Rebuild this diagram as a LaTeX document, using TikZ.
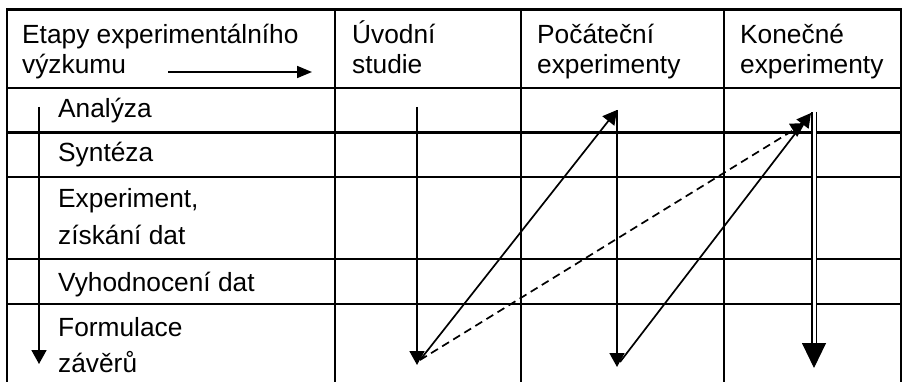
\documentclass[tikz,border=0pt]{standalone}
\usepackage{fontspec}
\setmainfont{Liberation Sans}
\usetikzlibrary{arrows.meta}
\tikzset{
  grid/.style={line width=2.2pt, line cap=rect},
  txt/.style={anchor=base west, inner sep=0pt, font=\fontsize{26.3}{31}\selectfont},
  arr/.style={line width=1.7pt, -{Triangle[length=14pt,width=15pt]}},
  darr/.style={arr, dashed, dash pattern=on 8pt off 5pt},
  bigtip/.style={line width=1pt, -{Triangle[length=25pt,width=24pt]}},
  dbl/.style={double, line width=1.5pt, double distance=3pt},
}
\begin{document}
\begin{tikzpicture}[x=1pt,y=-1pt]
\useasboundingbox (0,0) rectangle (903,382);
% table grid
\draw[grid] (7,9.5) -- (901,9.5);
\foreach \yy in {88,132.5,177,259,304}{\draw[grid] (7,\yy) -- (901,\yy);}
\foreach \xx in {7,335,521,724,901}{\draw[grid] (\xx,9.5) -- (\xx,382);}
% header texts
\node[txt] (h1a) at (22,44) {Etapy experimentálního};
\node[txt] (h1b) at (22,74) {výzkumu};
\node[txt] (h2a) at (352,44) {Úvodní};
\node[txt] (h2b) at (352,74) {studie};
\node[txt] (h3a) at (537,44) {Počáteční};
\node[txt] (h3b) at (537,74) {experimenty};
\node[txt] (h4a) at (740,44) {Konečné};
\node[txt] (h4b) at (740,74) {experimenty};
% row texts
\node[txt] (r1) at (58,118) {Analýza};
\node[txt] (r2) at (58,162) {Syntéza};
\node[txt] (r3a) at (58,208) {Experiment,};
\node[txt] (r3b) at (58,245) {získání dat};
\node[txt] (r4) at (58,291) {Vyhodnocení dat};
\node[txt] (r5a) at (58,337) {Formulace};
\node[txt] (r5b) at (58,372) {závěrů};
% header arrow
\coordinate (ha1) at (168,72);
\coordinate (ha2) at (312,72);
\draw[line width=1.7pt, -{Triangle[length=15pt,width=12pt]}] (ha1) -- (ha2);
% left arrow
\coordinate (la1) at (39,107);
\coordinate (la2) at (39,364);
\draw[arr] (la1) -- (la2);
% flow arrows
\coordinate (u1) at (417,107);
\coordinate (u2) at (417,365);
\coordinate (u3) at (420,360);
\coordinate (p1) at (617,110);
\coordinate (p2) at (617,367);
\coordinate (p3) at (620,362);
\coordinate (k1) at (811,113);
\coordinate (kd) at (805,123);
\coordinate (kt) at (814,112);
\coordinate (km) at (814,345);
\coordinate (kh) at (814,343);
\coordinate (kb) at (814,368);
\draw[arr] (u1) -- (u2);
\draw[arr] (u3) -- (p1);
\draw[arr] (p1) -- (p2);
\draw[arr] (p3) -- (k1);
\draw[darr] (u3) -- (kd);
\draw[dbl] (kt) -- (km);
\draw[bigtip] (kh) -- (kb);
\end{tikzpicture}
\end{document}
